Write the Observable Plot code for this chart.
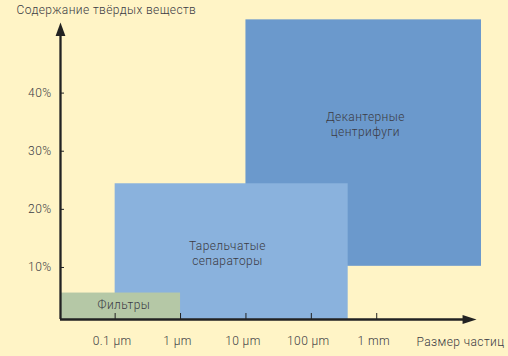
<!DOCTYPE html>
<html><head><meta charset="utf-8">
<script src="https://cdn.jsdelivr.net/npm/d3@7"></script>
<script src="https://cdn.jsdelivr.net/npm/@observablehq/plot@0.6"></script>
<style>html,body{margin:0;padding:0;background:#fff4c6;} svg text{letter-spacing:0.4px;}</style>
</head><body><div id="chart"></div>
<script>
// Scale extents (particle size in µm, solids content in %)
const xDomain = [0.0146, 40000];
const yDomain = [1.05, 55.07];

// Separation technologies
const names = ["Декантерные\nцентрифуги", "Тарельчатые\nсепараторы", "Фильтры"];
const sizeMin = [10, 0.1, xDomain[0]];
const sizeMax = [40000, 366, 1];
const solidsMin = [10.2, yDomain[0], yDomain[0]];
const solidsMax = [52.6, 24.4, 5.6];
const fills = ["#6b99cc", "#8ab2dd", "#b5c8a6"];
const labelSize = [670, 5.2, 0.136];
const labelSolids = [34.7, 12.5, 3.6];

// Ticks
const xTicks = [0.1, 1, 10, 100, 1000];
const xTickLabels = ["0.1 µm", "1 µm", "10 µm", "100 µm", "1 mm"];
const yTicks = [10, 20, 30, 40];
const yTickLabels = ["10%", "20%", "30%", "40%"];

// Axis arrows
const yArrowTip = 52.14, yLineEnd = 50.3;
const xArrowTip = 33600, xLineEnd = 22000;

const titleY = "Содержание твёрдых веществ";
const titleX = "Размер частиц";

const rows = names.map((n, i) => ({
  name: n, x1: sizeMin[i], x2: sizeMax[i], y1: solidsMin[i], y2: solidsMax[i],
  fill: fills[i], lx: labelSize[i], ly: labelSolids[i]
}));

const ink = "#222";
const txt = "#3b3b44";
const arrowUp = {draw(ctx) { ctx.moveTo(0, 0); ctx.lineTo(4.9, 13.5); ctx.lineTo(-4.9, 13.5); ctx.closePath(); }};
const arrowRight = {draw(ctx) { ctx.moveTo(0, 0); ctx.lineTo(-14, -4.4); ctx.lineTo(-14, 4.4); ctx.closePath(); }};

const chart = Plot.plot({
  width: 508, height: 356,
  marginLeft: 60, marginRight: 27, marginTop: 5, marginBottom: 37,
  style: {background: "#fff4c6", fontFamily: "Roboto, 'Liberation Sans', sans-serif", fontSize: "12px", color: txt, overflow: "visible"},
  x: {type: "log", domain: xDomain},
  y: {domain: yDomain},
  color: {type: "identity"},
  marks: [
    Plot.rect(rows, {x1: "x1", x2: "x2", y1: "y1", y2: "y2", fill: "fill"}),
    Plot.text(rows, {x: "lx", y: "ly", text: "name", fill: txt, fontSize: 12, lineHeight: 1.2, fontWeight: 300}),
    Plot.ruleX([xDomain[0]], {y1: yDomain[0], y2: yLineEnd, stroke: ink, strokeWidth: 2.3}),
    Plot.ruleY([yDomain[0]], {x1: xDomain[0], x2: xLineEnd, stroke: ink, strokeWidth: 2.3}),
    Plot.dot([[xDomain[0], yArrowTip]], {x: d => d[0], y: d => d[1], symbol: arrowUp, r: 5, fill: ink, stroke: "none"}),
    Plot.dot([[xArrowTip, yDomain[0]]], {x: d => d[0], y: d => d[1], symbol: arrowRight, r: 5, fill: ink, stroke: "none"}),
    Plot.axisX(xTicks, {tickSize: -6, fill: "none", stroke: ink, label: null}),
    Plot.axisX(xTicks, {tickSize: 0, tickPadding: 17, dx: -3, tickFormat: d => xTickLabels[xTicks.indexOf(d)], fill: txt, fontSize: 12, fontWeight: 300, label: null}),
    Plot.axisY(yTicks, {tickSize: -4, fill: "none", stroke: ink, label: null}),
    Plot.axisY(yTicks, {tickSize: 0, tickPadding: 9, tickFormat: d => yTickLabels[yTicks.indexOf(d)], fill: txt, fontSize: 12, fontWeight: 300, label: null}),
    Plot.text([titleY], {frameAnchor: "top-left", textAnchor: "start", lineAnchor: "middle", dx: -44, dy: 5, fill: txt, fontSize: 12, fontWeight: 300}),
    Plot.text([titleX], {frameAnchor: "bottom-right", textAnchor: "start", lineAnchor: "middle", dx: -65, dy: 23, fill: txt, fontSize: 12, fontWeight: 300})
  ]
});
document.getElementById("chart").append(chart);
</script>
</body></html>
